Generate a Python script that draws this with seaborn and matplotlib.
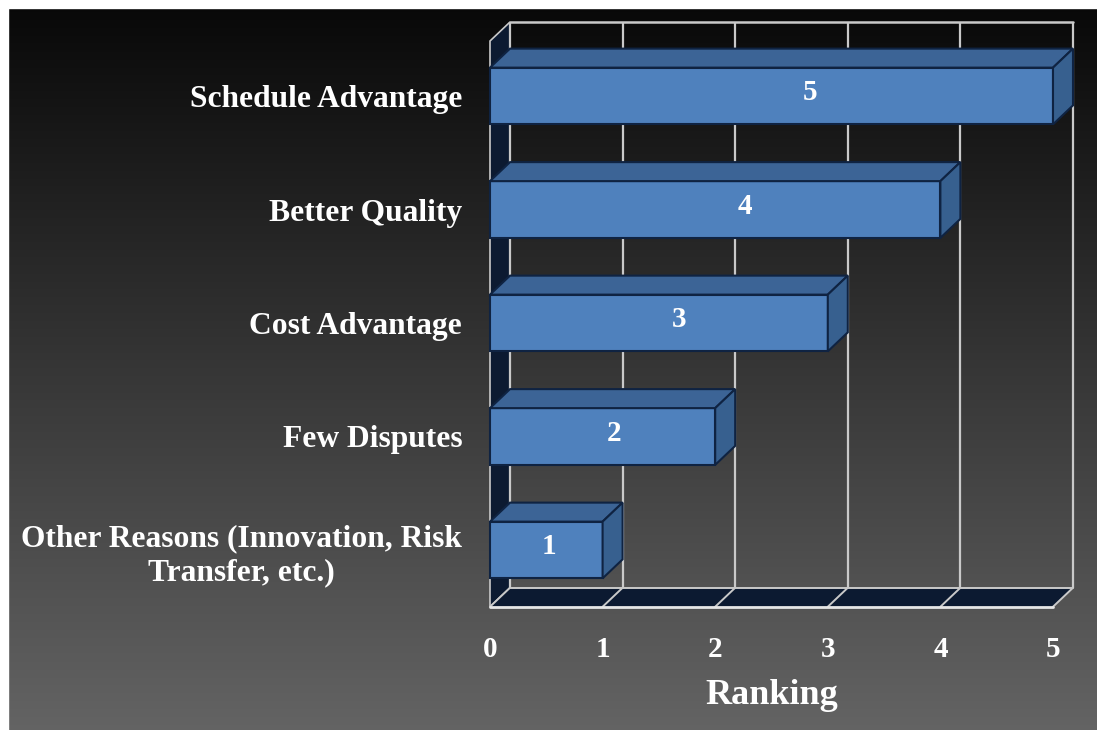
import numpy as np
import matplotlib
matplotlib.use("Agg")
import matplotlib.pyplot as plt
from matplotlib.patches import Polygon, Rectangle
import seaborn as sns

# ---- data ----
categories = [
    "Schedule Advantage",
    "Better Quality",
    "Cost Advantage",
    "Few Disputes",
    "Other Reasons (Innovation, Risk\nTransfer, etc.)",
]
rankings = [5, 4, 3, 2, 1]
x_ticks = [0, 1, 2, 3, 4, 5]
x_label = "Ranking"

# ---- style ----
sns.set_theme(style="white")
plt.rcParams["font.family"] = ["Liberation Serif", "DejaVu Serif"]
plt.rcParams["font.weight"] = "bold"

FRONT = "#4f81bd"
TOP = "#3c6496"
SIDE = "#37608f"
EDGE = "#0f2342"
NAVY = "#0c1a31"
GRID = "#c9c9c9"

W, H = 1097, 730
fig = plt.figure(figsize=(W / 100, H / 100), dpi=100)

# background gradient (dark at the top, grey toward the bottom)
bg = fig.add_axes([0, 0, 1, 1], zorder=-10)
grad = np.linspace(0.03, 0.39, 256).reshape(-1, 1)
bg.imshow(np.dstack([grad, grad, grad]), aspect="auto", extent=[0, 1, 0, 1],
          origin="upper")
bg.set_axis_off()
# white frame along the top and left edges
fig.patches.append(Rectangle((0, 0), 8 / W, 1, transform=fig.transFigure,
                             color="white", zorder=5))
fig.patches.append(Rectangle((0, 1 - 8 / H), 1, 8 / H, transform=fig.transFigure,
                             color="white", zorder=5))

# main axes: x unit ~112.6 px, category spacing ~113.5 px
x_lo, x_hi = -0.05, 5.25
y_top, y_bot = -0.7, 4.55
ux, uy = 112.6, 113.5
left_px = 490 + x_lo * ux
bottom_px = 550 + (y_bot - 4) * uy
ax_h_px = (y_bot - y_top) * uy
ax = fig.add_axes([left_px / W, (H - bottom_px) / H,
                   (x_hi - x_lo) * ux / W, ax_h_px / H])
ax.set_facecolor("none")

sns.barplot(x=rankings, y=categories, orient="h", color=FRONT, saturation=1,
            width=0.5, edgecolor=EDGE, linewidth=1.5, ax=ax, zorder=3)

ax.set_xlim(x_lo, x_hi)
ax.set_ylim(y_bot, y_top)

# depth offset of the 3D box (right and up)
dx = 20 / ux
dy = 19 / uy
floor = 4.5
wall_top = -0.652
xmax = max(x_ticks)

# left wall
ax.add_patch(Polygon([(0, floor), (0, wall_top + dy), (dx, wall_top),
                      (dx, floor - dy)], closed=True, facecolor=NAVY,
                     edgecolor=GRID, linewidth=1.2, zorder=1))
# floor
ax.add_patch(Polygon([(0, floor), (dx, floor - dy), (xmax + dx, floor - dy),
                      (xmax, floor)], closed=True, facecolor=NAVY,
                     edgecolor="none", zorder=1))
# back-wall grid lines and floor diagonals
for k in x_ticks:
    ax.plot([k + dx, k + dx], [floor - dy, wall_top], color=GRID, lw=1.6,
            zorder=1.5, solid_capstyle="butt")
    ax.plot([k, k + dx], [floor, floor - dy], color=GRID, lw=1.4, zorder=1.5)
ax.plot([dx, xmax + dx], [wall_top, wall_top], color=GRID, lw=1.8, zorder=1.5)
ax.plot([dx, xmax + dx], [floor - dy, floor - dy], color=GRID, lw=1.4, zorder=1.5)
ax.plot([0, xmax], [floor, floor], color="#e6e6e6", lw=2.0, zorder=1.6)

# top and side faces of each bar, built from the drawn bar geometry
for p, v in zip(ax.patches[:len(rankings)], rankings):
    x0, y0 = p.get_x(), p.get_y()
    x1, y1 = x0 + p.get_width(), y0 + p.get_height()
    ax.add_patch(Polygon([(x0, y0), (x0 + dx, y0 - dy), (x1 + dx, y0 - dy),
                          (x1, y0)], closed=True, facecolor=TOP,
                         edgecolor=EDGE, linewidth=1.5, zorder=3))
    ax.add_patch(Polygon([(x1, y0), (x1 + dx, y0 - dy), (x1 + dx, y1 - dy),
                          (x1, y1)], closed=True, facecolor=SIDE,
                         edgecolor=EDGE, linewidth=1.5, zorder=3))
    ax.text(v * 0.58 - 0.06, (y0 + y1) / 2 - 0.03, str(v), color="white",
            fontsize=21, fontweight="bold", ha="center", va="center", zorder=4)

for s in ax.spines.values():
    s.set_visible(False)
ax.grid(False)
ax.set_xticks(x_ticks)
ax.set_xticklabels([str(t) for t in x_ticks])
ax.tick_params(axis="x", length=0, pad=17, labelsize=21, colors="white")
ax.tick_params(axis="y", length=0, pad=16, labelsize=22.7, colors="white")
for lbl in ax.get_yticklabels():
    lbl.set_fontweight("bold")
    lbl.set_multialignment("center")
for lbl in ax.get_xticklabels():
    lbl.set_fontweight("bold")
ax.set_ylabel("")
ax.set_xlabel(x_label, color="white", fontsize=26, fontweight="bold")
# centre the axis title under the front plane (0..5)
ax.xaxis.set_label_coords((2.5 - x_lo) / (x_hi - x_lo), -67 / ax_h_px)

fig.savefig("out.png", dpi=100)
